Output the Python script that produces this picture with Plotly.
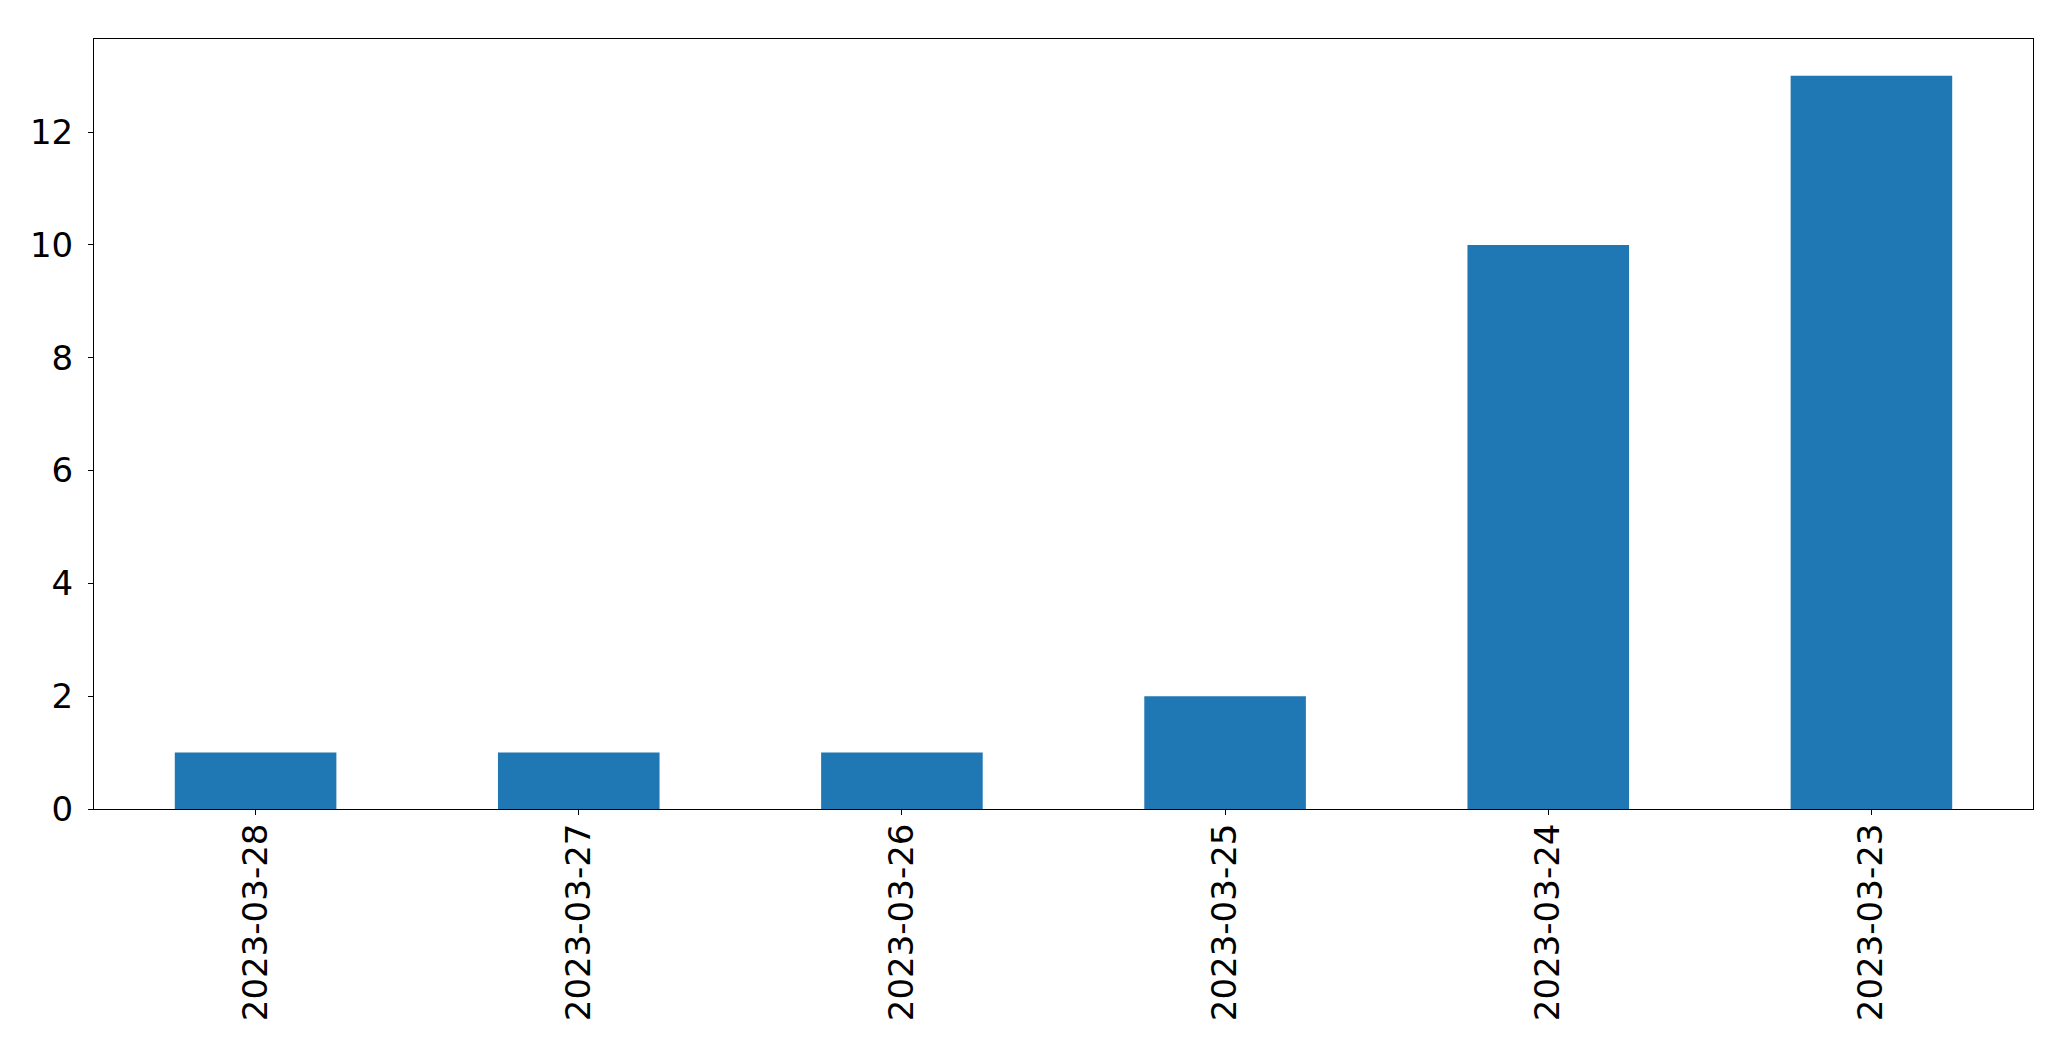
import plotly.graph_objects as go

dates = ["2023-03-28", "2023-03-27", "2023-03-26", "2023-03-25", "2023-03-24", "2023-03-23"]
counts = [1, 1, 1, 2, 10, 13]
y_ticks = [0, 2, 4, 6, 8, 10, 12]

fig = go.Figure(go.Bar(x=list(range(len(dates))), y=counts, width=0.5,
                       marker=dict(color="#1f77b4", line=dict(width=0))))

font = dict(family="DejaVu Sans", size=34, color="black")
fig.update_layout(
    width=2063, height=1053,
    margin=dict(l=86, r=38, t=31, b=252, pad=0),
    plot_bgcolor="white", paper_bgcolor="white",
    showlegend=False, font=font,
)
fig.update_xaxes(
    range=[-0.5, len(dates) - 0.5],
    tickmode="array", tickvals=list(range(len(dates))), ticktext=dates,
    tickangle=-90, ticks="outside", ticklen=5, tickwidth=1, tickcolor="black",
    showline=True, linecolor="black", linewidth=1, mirror=True,
    showgrid=False, zeroline=False, tickfont=font, ticklabelstandoff=-5,
)
fig.update_yaxes(
    range=[0, 13.65],
    tickmode="array", tickvals=y_ticks, ticktext=[str(v) for v in y_ticks],
    ticks="outside", ticklen=5, tickwidth=1, tickcolor="black",
    showline=True, linecolor="black", linewidth=1, mirror=True,
    showgrid=False, zeroline=False, tickfont=font, ticklabelstandoff=8,
)
fig.write_html("out.html")
